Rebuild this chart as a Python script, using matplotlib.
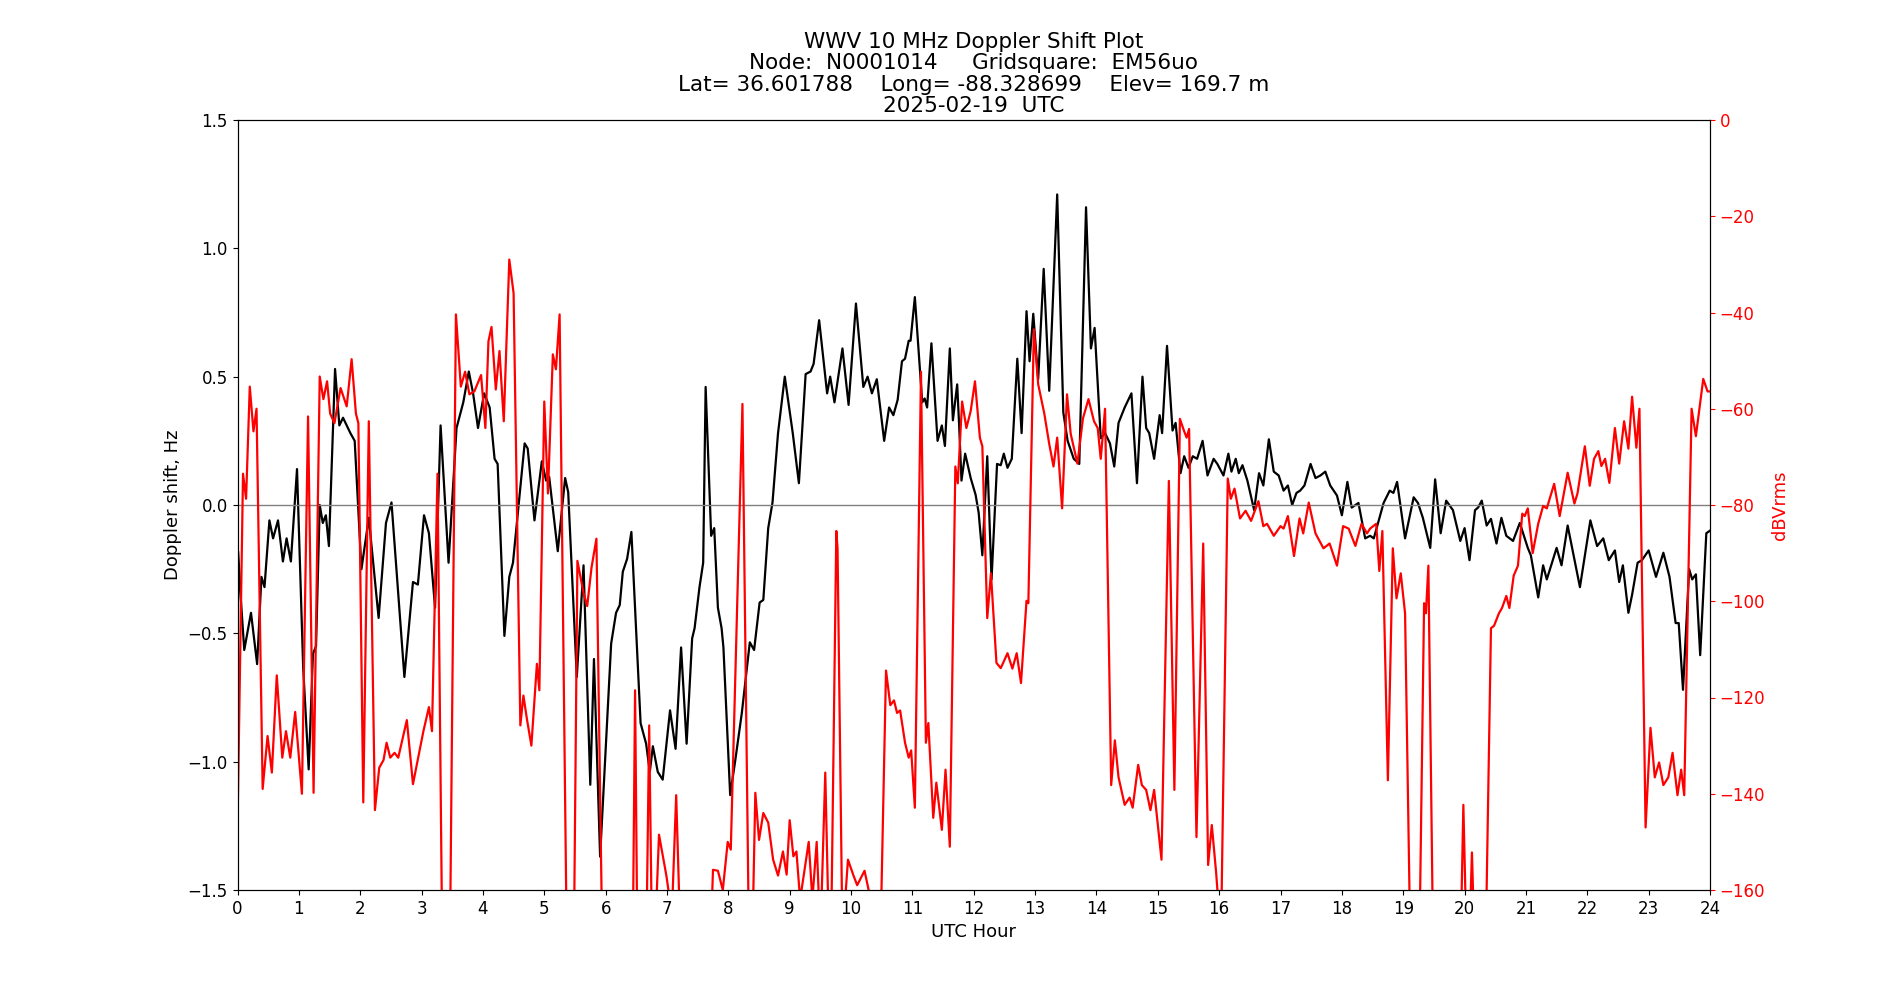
#!/usr/bin/env python

import matplotlib
matplotlib.use('Agg')
import matplotlib.pyplot as plt

# Doppler shift (Hz), hour vs value
dop_hours = [0.00, 0.01, 0.05, 0.11, 0.22, 0.32, 0.39, 0.44, 0.52, 0.58, 0.66, 0.74, 0.80, 0.87, 0.97,
	1.07, 1.16, 1.23, 1.28, 1.34, 1.39, 1.44, 1.49, 1.59, 1.66, 1.72, 1.78, 1.84, 1.91,
	2.02, 2.14, 2.30, 2.42, 2.51, 2.72, 2.86, 2.94, 3.04, 3.12, 3.22, 3.31, 3.44, 3.57, 3.68, 3.77, 3.84, 3.92,
	4.02, 4.11, 4.19, 4.24, 4.35, 4.43, 4.49, 4.68, 4.73, 4.84, 4.96, 5.03, 5.08, 5.22, 5.34, 5.39,
	5.53, 5.64, 5.75, 5.81, 5.91, 6.09, 6.17, 6.23, 6.28, 6.35, 6.42, 6.57, 6.66, 6.72, 6.77, 6.85, 6.93,
	7.05, 7.14, 7.23, 7.32, 7.41, 7.45, 7.53, 7.59, 7.63, 7.72, 7.77, 7.83, 7.89, 7.92,
	8.03, 8.11, 8.22, 8.35, 8.42, 8.51, 8.57, 8.65, 8.72, 8.81, 8.85, 8.92, 9.05, 9.15, 9.26, 9.34, 9.39,
	9.48, 9.61, 9.66, 9.73, 9.86, 9.96, 10.08, 10.20, 10.27, 10.34, 10.42, 10.54, 10.62, 10.69, 10.76,
	10.83, 10.88, 10.94, 10.97, 11.04, 11.16, 11.20, 11.24, 11.31, 11.41, 11.48, 11.53, 11.61, 11.66,
	11.73, 11.76, 11.80, 11.86, 11.95, 12.03, 12.08, 12.14, 12.22, 12.29, 12.38, 12.44, 12.49, 12.55,
	12.62, 12.71, 12.78, 12.86, 12.91, 12.97, 13.05, 13.14, 13.23, 13.36, 13.46, 13.53, 13.63, 13.72,
	13.83, 13.91, 13.97, 14.07, 14.14, 14.22, 14.29, 14.36, 14.46, 14.57, 14.66, 14.75, 14.81, 14.86,
	14.94, 15.03, 15.07, 15.15, 15.24, 15.29, 15.37, 15.43, 15.50, 15.57, 15.64, 15.73, 15.81, 15.91,
	15.97, 16.07, 16.15, 16.20, 16.27, 16.32, 16.38, 16.46, 16.57, 16.65, 16.72, 16.81, 16.89, 16.97,
	17.05, 17.12, 17.19, 17.26, 17.32, 17.39, 17.49, 17.57, 17.65, 17.73, 17.81, 17.92, 18.00, 18.09,
	18.16, 18.27, 18.38, 18.46, 18.52, 18.68, 18.78, 18.84, 18.90, 19.03, 19.17, 19.24, 19.32, 19.44,
	19.52, 19.61, 19.70, 19.81, 19.93, 20.00, 20.08, 20.17, 20.22, 20.28, 20.36, 20.43, 20.52, 20.60,
	20.68, 20.79, 20.90, 21.03, 21.08, 21.20, 21.28, 21.34, 21.50, 21.58, 21.68, 21.88, 22.05, 22.16,
	22.26, 22.35, 22.45, 22.52, 22.58, 22.67, 22.73, 22.82, 22.89, 23.00, 23.12, 23.24, 23.34, 23.44,
	23.49, 23.56, 23.66, 23.71, 23.77, 23.84, 23.94, 24.00]
dop_hz = [-1.27, -0.18, -0.35, -0.565, -0.42, -0.62, -0.28, -0.32, -0.06, -0.13, -0.06, -0.22, -0.13, -0.22, 0.14,
	-0.63, -1.03, -0.58, -0.55, 0.00, -0.07, -0.04, -0.16, 0.53, 0.31, 0.34, 0.31, 0.28, 0.25,
	-0.25, -0.05, -0.44, -0.07, 0.01, -0.67, -0.30, -0.31, -0.04, -0.11, -0.40, 0.31, -0.225, 0.30, 0.40, 0.52, 0.435, 0.30,
	0.435, 0.38, 0.18, 0.16, -0.51, -0.28, -0.225, 0.24, 0.22, -0.06, 0.17, 0.095, 0.11, -0.18, 0.105, 0.05,
	-0.67, -0.235, -1.09, -0.60, -1.37, -0.54, -0.42, -0.39, -0.26, -0.21, -0.105, -0.85, -0.93, -1.04, -0.94, -1.04, -1.07,
	-0.80, -0.95, -0.555, -0.93, -0.52, -0.48, -0.32, -0.225, 0.46, -0.12, -0.09, -0.40, -0.48, -0.555,
	-1.13, -1.00, -0.81, -0.535, -0.565, -0.38, -0.37, -0.09, 0.01, 0.28, 0.36, 0.50, 0.28, 0.085, 0.51, 0.52, 0.55,
	0.72, 0.435, 0.50, 0.40, 0.61, 0.39, 0.785, 0.46, 0.50, 0.435, 0.49, 0.25, 0.38, 0.35, 0.41,
	0.56, 0.57, 0.64, 0.64, 0.81, 0.40, 0.415, 0.38, 0.63, 0.25, 0.31, 0.23, 0.61, 0.33,
	0.47, 0.32, 0.095, 0.20, 0.105, 0.04, -0.03, -0.196, 0.19, -0.29, 0.16, 0.155, 0.20, 0.145,
	0.18, 0.57, 0.28, 0.755, 0.56, 0.745, 0.49, 0.92, 0.445, 1.21, 0.36, 0.25, 0.18, 0.16,
	1.16, 0.61, 0.69, 0.26, 0.28, 0.24, 0.15, 0.32, 0.38, 0.435, 0.085, 0.50, 0.30, 0.28,
	0.18, 0.35, 0.28, 0.62, 0.29, 0.32, 0.124, 0.19, 0.145, 0.19, 0.18, 0.25, 0.115, 0.18,
	0.16, 0.115, 0.20, 0.13, 0.18, 0.124, 0.155, 0.095, -0.02, 0.124, 0.076, 0.256, 0.13, 0.115,
	0.056, 0.076, 0.00, 0.047, 0.056, 0.076, 0.16, 0.105, 0.115, 0.13, 0.076, 0.037, -0.04, 0.09,
	-0.01, 0.008, -0.13, -0.12, -0.13, 0.008, 0.056, 0.047, 0.09, -0.13, 0.03, 0.008, -0.05, -0.167,
	0.10, -0.11, 0.017, -0.02, -0.14, -0.09, -0.215, -0.02, -0.01, 0.017, -0.08, -0.054, -0.15, -0.05,
	-0.12, -0.14, -0.07, -0.167, -0.196, -0.36, -0.235, -0.29, -0.167, -0.235, -0.08, -0.32, -0.06, -0.16,
	-0.13, -0.215, -0.177, -0.30, -0.235, -0.42, -0.35, -0.225, -0.215, -0.177, -0.28, -0.186, -0.28, -0.46,
	-0.46, -0.72, -0.25, -0.29, -0.27, -0.585, -0.11, -0.10]

# received power (dBVrms); values under -160 run off the bottom of the plot
pwr_hours = [0.00, 0.09, 0.14, 0.20, 0.26, 0.31, 0.41, 0.49, 0.56, 0.64, 0.73, 0.79, 0.86, 0.94,
	1.05, 1.15, 1.24, 1.34, 1.40, 1.46, 1.51, 1.58, 1.68, 1.78, 1.86, 1.93, 1.97,
	2.05, 2.14, 2.24, 2.31, 2.38, 2.43, 2.49, 2.56, 2.62, 2.76, 2.86, 3.03, 3.12, 3.17, 3.26, 3.34, 3.46,
	3.56, 3.64, 3.71, 3.78, 3.86, 3.97, 4.04, 4.09, 4.14, 4.21, 4.27, 4.34, 4.43, 4.50, 4.61, 4.66, 4.72,
	4.79, 4.88, 4.92, 5.00, 5.06, 5.14, 5.19, 5.25, 5.37, 5.48, 5.54, 5.64, 5.70, 5.77, 5.85, 5.95,
	6.44, 6.48, 6.52, 6.66, 6.71, 6.76, 6.82, 6.87, 6.99, 7.08, 7.15, 7.23, 7.70, 7.75, 7.83, 7.91,
	7.99, 8.04, 8.23, 8.34, 8.40, 8.44, 8.50, 8.57, 8.65, 8.73, 8.81, 8.89, 8.95, 9.00, 9.06, 9.11,
	9.17, 9.31, 9.37, 9.44, 9.50, 9.58, 9.64, 9.68, 9.76, 9.78, 9.86, 9.95, 10.04, 10.10, 10.22, 10.32,
	10.48, 10.57, 10.64, 10.70, 10.75, 10.80, 10.88, 10.94, 10.98, 11.04, 11.14, 11.22, 11.26, 11.34,
	11.39, 11.48, 11.54, 11.61, 11.70, 11.74, 11.81, 11.88, 11.95, 12.02, 12.10, 12.14, 12.22, 12.28,
	12.37, 12.44, 12.55, 12.63, 12.70, 12.77, 12.86, 12.89, 12.98, 13.05, 13.15, 13.23, 13.30, 13.36,
	13.44, 13.52, 13.58, 13.69, 13.78, 13.87, 13.96, 14.02, 14.07, 14.14, 14.24, 14.30, 14.36, 14.46,
	14.54, 14.59, 14.68, 14.74, 14.81, 14.88, 14.94, 15.06, 15.18, 15.27, 15.36, 15.43, 15.47, 15.51,
	15.63, 15.74, 15.82, 15.88, 15.95, 16.03, 16.14, 16.19, 16.25, 16.34, 16.43, 16.52, 16.64, 16.72,
	16.78, 16.89, 17.00, 17.05, 17.12, 17.22, 17.31, 17.37, 17.46, 17.57, 17.70, 17.80, 17.92, 18.02,
	18.11, 18.22, 18.32, 18.41, 18.46, 18.56, 18.61, 18.66, 18.75, 18.83, 18.89, 18.96, 19.03, 19.12,
	19.26, 19.34, 19.37, 19.41, 19.49, 19.93, 19.98, 20.03, 20.09, 20.12, 20.17, 20.34, 20.43, 20.48,
	20.56, 20.61, 20.68, 20.73, 20.80, 20.87, 20.94, 20.98, 21.03, 21.11, 21.20, 21.28, 21.34, 21.46,
	21.55, 21.68, 21.79, 21.84, 21.96, 22.04, 22.11, 22.18, 22.23, 22.29, 22.36, 22.45, 22.52, 22.60,
	22.67, 22.73, 22.80, 22.85, 22.95, 23.03, 23.10, 23.17, 23.24, 23.32, 23.39, 23.47, 23.53, 23.58,
	23.70, 23.77, 23.89, 23.96, 24.00]
pwr_db = [-147, -73.5, -78.7, -55.4, -64.7, -60, -139, -128, -135.6, -115.4, -132.5, -127, -132.5, -123,
	-140, -61.6, -139.8, -53.3, -58, -54.3, -61, -63, -55.7, -59.5, -49.7, -61, -63,
	-141.8, -62.6, -143.4, -134.6, -133, -129.4, -132.5, -131.5, -132.5, -124.7, -138, -127, -122, -127, -73.5, -175, -175,
	-40.4, -55.4, -52.3, -57, -56.4, -53, -64, -46, -43, -56, -48, -62.6, -29, -36, -125.8, -119.6, -124.7,
	-130, -113, -118.5, -58.5, -77.6, -48.7, -51.8, -40.4, -175, -175, -91.6, -98.3, -101, -93, -87, -175,
	-175, -118.5, -175, -175, -125.8, -175, -165, -148.5, -157, -165, -140.3, -175, -175, -155.8, -156, -160,
	-150, -151.6, -59, -175, -165, -139.8, -149.6, -144, -146, -153.7, -157, -152, -156.8, -145.5, -153, -152,
	-162, -150, -162, -150, -170, -135.6, -170, -165, -85.4, -89, -170, -153.7, -157, -159, -156, -162,
	-170, -114.4, -121.6, -120.6, -123.2, -122.7, -129.4, -132.5, -131, -142.9, -52.3, -129.4, -125.3, -145,
	-137.7, -147.5, -135, -151, -72, -75.5, -58.5, -64, -60.5, -54.3, -66, -67.8, -103.5, -94.2,
	-112.8, -113.9, -110.8, -114, -110.8, -117, -99.9, -100.4, -43.5, -54.9, -61, -67.3, -72, -66,
	-80.7, -57, -65.2, -71.4, -62, -58, -62.6, -64, -70.4, -60, -138.2, -128.9, -136.6, -142.3,
	-140.8, -142.9, -134, -138.2, -139.2, -143.4, -139.2, -153.7, -75, -139.2, -62.1, -64.7, -66, -64.2,
	-149, -88, -154.8, -146.5, -156.3, -170, -74.5, -78.7, -76.6, -82.8, -81.2, -83.3, -79.2, -84.4,
	-83.9, -86.4, -84.4, -84.9, -82.3, -90.6, -82.8, -85.9, -79.5, -85.9, -89, -88, -92.6, -84.4,
	-84.9, -88.5, -83.9, -85.9, -84.9, -83.9, -93.7, -85.4, -137.2, -89, -99.4, -94.2, -102.5, -175,
	-175, -100.4, -102.5, -92.6, -175, -175, -142.3, -170, -165, -152.2, -175, -175, -105.6, -105.1,
	-102.5, -101.4, -98.9, -101.4, -94.7, -92.6, -81.8, -82.3, -80.7, -90, -83.9, -80.2, -80.7, -75.6,
	-82.3, -73.3, -79.7, -77.6, -67.8, -76, -70.4, -68.8, -71.9, -70.4, -75.4, -64, -71.4, -62.6,
	-68.3, -57.5, -68.1, -60, -147, -126.3, -136.6, -133.5, -138.2, -136.6, -131.5, -140.3, -135, -140.3,
	-60, -65.7, -53.8, -56.4, -56.4]

title = ('WWV 10 MHz Doppler Shift Plot\n'
	'Node:  N0001014     Gridsquare:  EM56uo\n'
	'Lat= 36.601788    Long= -88.328699    Elev= 169.7 m\n'
	'2025-02-19  UTC')

fig, ax1 = plt.subplots(figsize=(19, 10), dpi=100)

ax1.plot(dop_hours, dop_hz, color='black', linewidth=1.6)
ax1.axhline(0, color='grey', linewidth=1)
ax1.set_xlim(0, 24)
ax1.set_ylim(-1.5, 1.5)
ax1.set_xticks(range(25))
ax1.set_xlabel('UTC Hour', fontsize=13)
ax1.set_ylabel('Doppler shift, Hz', fontsize=13)
ax1.tick_params(labelsize=12)
ax1.set_title(title, fontsize=15.5, linespacing=1.07)

ax2 = ax1.twinx()
ax2.plot(pwr_hours, pwr_db, color='red', linewidth=1.6)
ax2.set_ylim(-160, 0)
ax2.set_ylabel('dBVrms', color='red', fontsize=13)
ax2.tick_params(axis='y', colors='red', labelsize=12)

plt.savefig('out.png', dpi=100)
